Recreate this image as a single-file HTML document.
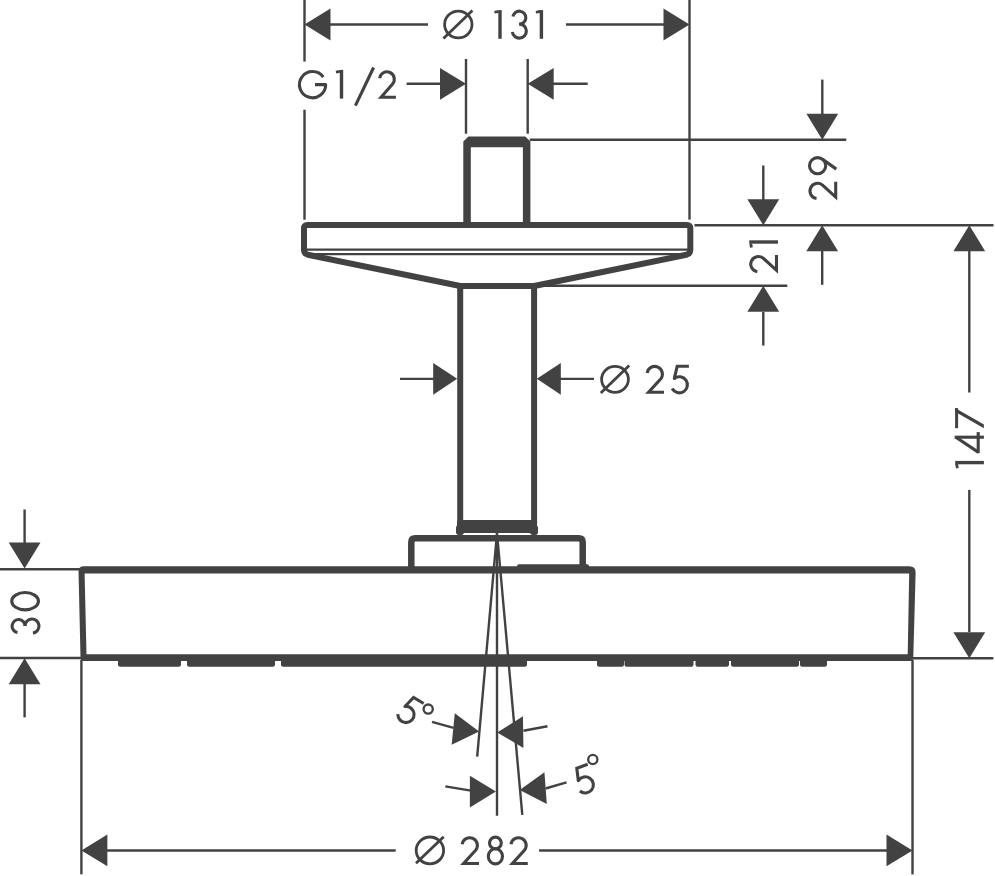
<!DOCTYPE html>
<html><head><meta charset="utf-8"><title>Shower head dimensions</title>
<style>html,body{margin:0;padding:0;background:#fff;}svg{display:block;}</style>
</head><body>
<svg width="995" height="876" viewBox="0 0 995 876">
<g fill="#424242" stroke="#424242" stroke-linecap="butt">
<line x1="304.5" y1="0" x2="304.5" y2="61.6" stroke-width="2.4"/>
<line x1="304.5" y1="109.7" x2="304.5" y2="219.7" stroke-width="2.4"/>
<line x1="689.5" y1="0" x2="689.5" y2="219.6" stroke-width="2.4"/>
<line x1="330" y1="24.5" x2="428" y2="24.5" stroke-width="2.4"/>
<line x1="566" y1="24.5" x2="664" y2="24.5" stroke-width="2.4"/>
<line x1="466" y1="59" x2="466" y2="133.7" stroke-width="2.4"/>
<line x1="527.7" y1="59" x2="527.7" y2="133.7" stroke-width="2.4"/>
<line x1="406.6" y1="83.8" x2="441" y2="83.8" stroke-width="2.4"/>
<line x1="553" y1="83.8" x2="587.7" y2="83.8" stroke-width="2.4"/>
<line x1="529.7" y1="139.7" x2="846.3" y2="139.7" stroke-width="2.4"/>
<line x1="822.3" y1="79.6" x2="822.3" y2="114" stroke-width="2.4"/>
<line x1="822.2" y1="250" x2="822.2" y2="284.8" stroke-width="2.4"/>
<line x1="694.5" y1="225.2" x2="993.5" y2="225.2" stroke-width="2.4"/>
<line x1="763.3" y1="165.5" x2="763.3" y2="200" stroke-width="2.4"/>
<line x1="763.3" y1="312" x2="763.3" y2="345.6" stroke-width="2.4"/>
<line x1="537" y1="285.7" x2="787.3" y2="285.7" stroke-width="2.4"/>
<line x1="969.3" y1="250" x2="969.3" y2="392.5" stroke-width="2.4"/>
<line x1="969.3" y1="489.9" x2="969.3" y2="632" stroke-width="2.4"/>
<line x1="912.7" y1="658.2" x2="993.4" y2="658.2" stroke-width="2.4"/>
<line x1="24.6" y1="509.5" x2="24.6" y2="543" stroke-width="2.4"/>
<line x1="24.6" y1="684" x2="24.6" y2="717.4" stroke-width="2.4"/>
<line x1="0" y1="569.2" x2="80" y2="569.2" stroke-width="2.4"/>
<line x1="0" y1="658.0" x2="82" y2="658.0" stroke-width="2.4"/>
<line x1="81.4" y1="660" x2="81.4" y2="874.3" stroke-width="2.4"/>
<line x1="912.5" y1="660" x2="912.5" y2="874.4" stroke-width="2.4"/>
<line x1="107" y1="850.45" x2="395.7" y2="850.45" stroke-width="2.4"/>
<line x1="539.1" y1="850.45" x2="887" y2="850.45" stroke-width="2.4"/>
<line x1="400" y1="378.85" x2="434" y2="378.85" stroke-width="2.4"/>
<line x1="560" y1="378.85" x2="594" y2="378.85" stroke-width="2.4"/>
<line x1="497" y1="536" x2="497" y2="815.7" stroke-width="2.4"/>
<line x1="497" y1="533" x2="477.2" y2="756.6" stroke-width="2.4"/>
<line x1="497" y1="533" x2="522.3" y2="814.9" stroke-width="2.4"/>
<line x1="432" y1="721.8" x2="453.5" y2="727.9" stroke-width="2.4"/>
<line x1="523.5" y1="730.8" x2="547.5" y2="726.3" stroke-width="2.4"/>
<line x1="445.3" y1="786.4" x2="471" y2="790.6" stroke-width="2.4"/>
<line x1="545.5" y1="788.5" x2="566.5" y2="782.4" stroke-width="2.4"/>
<line x1="306" y1="249.6" x2="688" y2="249.6" stroke-width="2.2"/>
<line x1="306" y1="254.1" x2="688" y2="254.1" stroke-width="2.2"/>
</g>
<g fill="#424242" stroke="none">
<polygon points="304.50,24.50 330.50,8.60 330.50,40.40"/>
<polygon points="689.50,24.50 663.50,40.40 663.50,8.60"/>
<polygon points="466.00,83.80 440.00,99.70 440.00,67.90"/>
<polygon points="527.70,83.80 553.70,67.90 553.70,99.70"/>
<polygon points="822.30,139.70 806.40,113.70 838.20,113.70"/>
<polygon points="822.20,225.20 838.10,251.20 806.30,251.20"/>
<polygon points="763.30,225.20 747.40,199.20 779.20,199.20"/>
<polygon points="763.30,285.70 779.20,311.70 747.40,311.70"/>
<polygon points="969.30,225.30 985.20,251.30 953.40,251.30"/>
<polygon points="969.30,658.20 953.40,632.20 985.20,632.20"/>
<polygon points="24.60,568.50 8.70,542.50 40.50,542.50"/>
<polygon points="24.60,658.20 40.50,684.20 8.70,684.20"/>
<polygon points="81.40,850.45 107.40,834.55 107.40,866.35"/>
<polygon points="912.50,850.45 886.50,866.35 886.50,834.55"/>
<polygon points="457.20,378.85 433.20,394.75 433.20,362.95"/>
<polygon points="536.80,378.85 560.80,362.95 560.80,394.75"/>
<polygon points="479.10,731.60 451.67,744.87 454.78,713.23"/>
<polygon points="497.20,732.50 522.94,716.19 523.45,747.98"/>
<polygon points="495.90,791.60 469.90,807.50 469.90,775.70"/>
<polygon points="519.70,790.00 544.43,772.19 546.82,803.90"/>
</g>
<g fill="#424242" stroke="#424242" stroke-width="0">
<path fill-rule="evenodd" d="M463.3,226 L463.3,141.6 L468.4,136.4 L525.3,136.4 L530.4,141.6 L530.4,226 Z M470.8,226 L470.8,147.2 L522.9,147.2 L522.9,226 Z"/>
<path fill="none" stroke-width="6" stroke-linejoin="round" d="M460.20,286.00 L307.92,254.80 Q304.00,254.00 304.00,250.00 L304.00,228.50 Q304.00,225.00 307.50,225.00 L686.80,225.00 Q690.30,225.00 690.30,228.50 L690.30,250.00 Q690.30,254.00 686.38,254.80 L534.10,286.00 Z"/>
<path fill="none" stroke-width="6" d="M460.2,286 L460.2,524 M534.1,286 L534.1,524"/>
<rect x="457" y="520" width="80" height="13" rx="3"/>
<rect x="456" y="525" width="8" height="10" rx="3"/>
<rect x="530" y="525" width="8" height="10" rx="3"/>
<path fill="none" stroke-width="6.5" stroke-linejoin="round" d="M411.30,570.00 L411.30,542.20 Q411.30,538.20 415.30,538.20 L578.70,538.20 Q582.70,538.20 582.70,542.20 L582.70,570.00 "/>
<path fill-rule="evenodd" d="M78.53,571.80 Q78.40,566.30 83.90,566.30 L909.30,566.30 Q915.80,566.30 915.62,572.80 L913.28,658.00 Q913.20,661.00 910.20,661.00 L83.10,661.00 Q80.60,661.00 80.54,658.50 Z M84.60,573.50 L909.20,573.50 L907.70,654.20 L86.50,654.20 Z"/>
<rect x="517" y="564.2" width="72" height="5" rx="2"/>
<rect x="118" y="657" width="63" height="9.7" rx="2.2"/>
<rect x="187" y="657" width="88" height="9.7" rx="2.2"/>
<rect x="281" y="657" width="246" height="9.7" rx="2.2"/>
<rect x="597" y="657" width="27" height="9.7" rx="2.2"/>
<rect x="624.5" y="657" width="69.0" height="9.7" rx="2.2"/>
<rect x="695.5" y="657" width="33.5" height="9.7" rx="2.2"/>
<rect x="731" y="657" width="68" height="9.7" rx="2.2"/>
<rect x="800" y="657" width="27" height="9.7" rx="2.2"/>
</g>
<g role="img" aria-label="Ø 131"><path d="M444.60,24.45 A13.70,13.35 0 1 1 472.00,24.45 A13.70,13.35 0 1 1 444.60,24.45 Z" fill="none" stroke="#424242" stroke-width="2.8"/><line x1="443.4" y1="38.4" x2="472.4" y2="10.6" stroke="#424242" stroke-width="2.8"/><g transform="translate(494.20,38.80)"><path d="M0,-27.9 L4.4,-28.7 L4.4,-25.8 L0.5,-25.2 Z" fill="#424242"/><path d="M5.8,-28.7 L5.8,0" fill="none" stroke="#424242" stroke-width="3.4" stroke-linejoin="round"/></g><g transform="translate(510.80,38.80)"><path d="M2.05,-22.24 A6.55,6.55 0 1 1 8.50,-14.55" fill="none" stroke="#424242" stroke-width="3.1" stroke-linejoin="round"/><path d="M8.50,-14.80 A7.05,7.05 0 1 1 1.52,-6.77" fill="none" stroke="#424242" stroke-width="3.1" stroke-linejoin="round"/></g><g transform="translate(535.60,38.80)"><path d="M0,-27.9 L4.4,-28.7 L4.4,-25.8 L0.5,-25.2 Z" fill="#424242"/><path d="M5.8,-28.7 L5.8,0" fill="none" stroke="#424242" stroke-width="3.4" stroke-linejoin="round"/></g></g>
<g role="img" aria-label="G1/2"><g transform="translate(297.90,99.30)"><path d="M25.38,-22.16 A13.10,13.10 0 1 0 27.75,-14.65 L17.1,-14.65" fill="none" stroke="#424242" stroke-width="3.1" stroke-linejoin="round"/></g><g transform="translate(335.70,98.60)"><path d="M0,-27.9 L4.4,-28.7 L4.4,-25.8 L0.5,-25.2 Z" fill="#424242"/><path d="M5.8,-28.7 L5.8,0" fill="none" stroke="#424242" stroke-width="3.4" stroke-linejoin="round"/></g><line x1="355.4" y1="105.7" x2="373.6" y2="67.5" stroke="#424242" stroke-width="3.1"/><g transform="translate(378.00,98.80)"><path d="M1.67,-20.62 A7.35,7.35 0 1 1 14.58,-14.88 L3.1,-1.5 L17.90,-1.5" fill="none" stroke="#424242" stroke-width="3.1" stroke-linejoin="miter"/></g></g>
<g role="img" aria-label="29"><g transform="translate(837.20,200.20) rotate(-90)"><path d="M1.67,-20.66 A7.65,7.65 0 1 1 15.11,-14.68 L3.1,-1.5 L18.50,-1.5" fill="none" stroke="#424242" stroke-width="3.1" stroke-linejoin="miter"/></g><g transform="translate(837.20,175.40) rotate(-90)"><path d="M1.60,-19.60 A8.10,8.10 0 1 1 17.80,-19.60 A8.10,8.10 0 1 1 1.60,-19.60 Z" fill="none" stroke="#424242" stroke-width="3.1" stroke-linejoin="round"/><path d="M16.3,-14.9 L6.28,-0.9" fill="none" stroke="#424242" stroke-width="3.1" stroke-linejoin="round"/></g></g>
<g role="img" aria-label="21"><g transform="translate(778.00,273.40) rotate(-90)"><path d="M1.67,-20.66 A7.65,7.65 0 1 1 15.11,-14.68 L3.1,-1.5 L18.50,-1.5" fill="none" stroke="#424242" stroke-width="3.1" stroke-linejoin="miter"/></g><g transform="translate(778.00,247.80) rotate(-90)"><path d="M0,-27.9 L4.4,-28.7 L4.4,-25.8 L0.5,-25.2 Z" fill="#424242"/><path d="M5.8,-28.7 L5.8,0" fill="none" stroke="#424242" stroke-width="3.4" stroke-linejoin="round"/></g></g>
<g role="img" aria-label="147"><g transform="translate(983.90,468.40) rotate(-90)"><path d="M0,-27.9 L4.4,-28.7 L4.4,-25.8 L0.5,-25.2 Z" fill="#424242"/><path d="M5.8,-28.7 L5.8,0" fill="none" stroke="#424242" stroke-width="3.4" stroke-linejoin="round"/></g><g transform="translate(983.90,453.50) rotate(-90)"><path d="M16.3,0 L16.3,-29.2" fill="none" stroke="#424242" stroke-width="3.1" stroke-linejoin="round"/><path d="M0.3,-5.7 L21.4,-5.7" fill="none" stroke="#424242" stroke-width="3.1" stroke-linejoin="round"/><path d="M16.3,-28.0 L1.4,-5.7" fill="none" stroke="#424242" stroke-width="3.1" stroke-linejoin="round"/></g><g transform="translate(983.90,428.20) rotate(-90)"><path d="M0,-28.8 L20.1,-28.8 L20.1,-25.8 L0,-25.8 Z" fill="#424242"/><path d="M16.4,-28.8 L20.1,-28.8 L3.7,0 L0,0 Z" fill="#424242"/></g></g>
<g role="img" aria-label="30"><g transform="translate(39.70,634.60) rotate(-90)"><path d="M2.05,-22.24 A6.55,6.55 0 1 1 8.50,-14.55" fill="none" stroke="#424242" stroke-width="3.1" stroke-linejoin="round"/><path d="M8.50,-14.80 A7.05,7.05 0 1 1 1.52,-6.77" fill="none" stroke="#424242" stroke-width="3.1" stroke-linejoin="round"/></g><g transform="translate(39.70,611.40) rotate(-90)"><path d="M1.55,-14.60 A8.65,13.35 0 1 1 18.85,-14.60 A8.65,13.35 0 1 1 1.55,-14.60 Z" fill="none" stroke="#424242" stroke-width="3.1" stroke-linejoin="round"/></g></g>
<g role="img" aria-label="Ø 25"><path d="M601.60,379.35 A13.40,12.95 0 1 1 628.40,379.35 A13.40,12.95 0 1 1 601.60,379.35 Z" fill="none" stroke="#424242" stroke-width="2.8"/><line x1="600.8" y1="393.1" x2="629.2" y2="365.5" stroke="#424242" stroke-width="2.8"/><g transform="translate(645.50,393.70)"><path d="M1.67,-20.66 A7.65,7.65 0 1 1 15.11,-14.68 L3.1,-1.5 L18.50,-1.5" fill="none" stroke="#424242" stroke-width="3.1" stroke-linejoin="miter"/></g><g transform="translate(669.90,393.70)"><path d="M19,-27.4 L7.3,-27.4 L4.41,-15.28" fill="none" stroke="#424242" stroke-width="3.1" stroke-linejoin="miter"/><path d="M4.41,-15.28 A8.10,8.10 0 1 1 2.25,-5.10" fill="none" stroke="#424242" stroke-width="3.1" stroke-linejoin="round"/><path d="M2.91,-15.28 a1.5,1.5 0 1 0 3,0 a1.5,1.5 0 1 0 -3,0 Z" fill="#424242"/></g></g>
<g role="img" aria-label="Ø 282"><path d="M416.20,850.40 A13.70,13.40 0 1 1 443.60,850.40 A13.70,13.40 0 1 1 416.20,850.40 Z" fill="none" stroke="#424242" stroke-width="2.8"/><line x1="416" y1="863.2" x2="443.7" y2="836.7" stroke="#424242" stroke-width="2.8"/><g transform="translate(460.50,865.00)"><path d="M1.67,-20.66 A7.65,7.65 0 1 1 15.11,-14.68 L3.1,-1.5 L18.50,-1.5" fill="none" stroke="#424242" stroke-width="3.1" stroke-linejoin="miter"/></g><g transform="translate(486.80,865.00)"><path d="M2.70,-22.05 A5.90,5.85 0 1 1 14.50,-22.05 A5.90,5.85 0 1 1 2.70,-22.05 Z" fill="none" stroke="#424242" stroke-width="3.1" stroke-linejoin="round"/><path d="M1.50,-8.65 A7.10,7.55 0 1 1 15.70,-8.65 A7.10,7.55 0 1 1 1.50,-8.65 Z" fill="none" stroke="#424242" stroke-width="3.1" stroke-linejoin="round"/></g><g transform="translate(509.30,865.00)"><path d="M1.67,-20.66 A7.65,7.65 0 1 1 15.11,-14.68 L3.1,-1.5 L18.50,-1.5" fill="none" stroke="#424242" stroke-width="3.1" stroke-linejoin="miter"/></g></g>
<g role="img" aria-label="5°"><g transform="translate(579.63,796.54) rotate(-20.7)"><path d="M19,-27.4 L7.3,-27.4 L4.41,-15.28" fill="none" stroke="#424242" stroke-width="3.1" stroke-linejoin="miter"/><path d="M4.41,-15.28 A8.10,8.10 0 1 1 2.25,-5.10" fill="none" stroke="#424242" stroke-width="3.1" stroke-linejoin="round"/><path d="M2.91,-15.28 a1.5,1.5 0 1 0 3,0 a1.5,1.5 0 1 0 -3,0 Z" fill="#424242"/></g><circle cx="592.8" cy="759.5" r="4.6" fill="none" stroke="#424242" stroke-width="2.3"/></g>
<g role="img" aria-label="5°"><g transform="translate(393.35,717.40) rotate(30.6)"><path d="M19,-27.4 L7.3,-27.4 L4.41,-15.28" fill="none" stroke="#424242" stroke-width="3.1" stroke-linejoin="miter"/><path d="M4.41,-15.28 A8.10,8.10 0 1 1 2.25,-5.10" fill="none" stroke="#424242" stroke-width="3.1" stroke-linejoin="round"/><path d="M2.91,-15.28 a1.5,1.5 0 1 0 3,0 a1.5,1.5 0 1 0 -3,0 Z" fill="#424242"/></g><circle cx="428.2" cy="709.1" r="4.6" fill="none" stroke="#424242" stroke-width="2.3"/></g>
</svg>
</body></html>
